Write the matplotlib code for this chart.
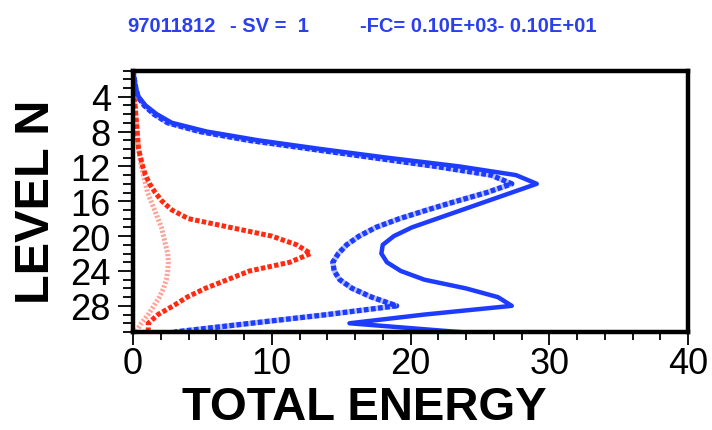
import numpy as np
import matplotlib
matplotlib.use("Agg")
import matplotlib.pyplot as plt
from matplotlib.ticker import MultipleLocator

plt.rcParams["font.family"] = ["Liberation Sans", "DejaVu Sans"]

# vertical levels, 1 (top) to 31 (bottom)
levels = np.arange(1, 32)

# total energy profiles
blue_solid = [0.0, 0.1, 0.2, 0.4, 0.9, 1.7, 2.8, 5.3, 9.0, 13.5, 18.3, 23.5,
              27.6, 29.1, 27.3, 25.5, 23.7, 21.9, 20.1, 18.8, 18.0, 17.9,
              18.3, 19.3, 21.0, 24.0, 26.3, 27.3, 21.0, 15.6, 23.5]
blue_dotted = [0.0, 0.1, 0.2, 0.35, 0.8, 1.5, 2.5, 4.8, 8.3, 12.8, 17.3, 21.8,
               25.8, 27.3, 25.5, 23.3, 21.2, 19.2, 17.5, 16.3, 15.4, 14.8,
               14.4, 14.5, 14.9, 15.8, 17.2, 19.0, 14.0, 8.5, 3.0]
red_dotted = [0.0, 0.0, 0.05, 0.1, 0.15, 0.2, 0.25, 0.3, 0.35, 0.4, 0.55, 0.7,
              0.9, 1.2, 1.6, 2.1, 2.8, 4.0, 7.0, 10.0, 11.8, 12.8, 11.3, 8.4,
              6.8, 5.2, 3.9, 2.9, 1.8, 1.1, 1.1]
red_light = [0.0, 0.0, 0.05, 0.1, 0.15, 0.2, 0.25, 0.3, 0.35, 0.4, 0.5, 0.6,
             0.75, 0.9, 1.05, 1.3, 1.55, 1.8, 2.05, 2.2, 2.35, 2.5, 2.55, 2.5,
             2.4, 2.2, 1.9, 1.5, 1.1, 0.6, 0.2]

x_ticks = [0, 10, 20, 30, 40]
y_ticks = [4, 8, 12, 16, 20, 24, 28]

BLUE = "#1e3cff"
RED = "#ff2a10"

fig = plt.figure(figsize=(7.12, 4.31), dpi=100)
ax = fig.add_axes([0.1868, 0.2274, 0.7795, 0.6067])

ax.plot(red_light, levels, color="#ff5a48", lw=3.6, alpha=0.55,
        dashes=(0.45, 0.35))
ax.plot(red_dotted, levels, color=RED, lw=3.6, dashes=(0.9, 0.45))
ax.plot(blue_dotted, levels, color="#8a9aff", lw=3.8, alpha=0.6)
ax.plot(blue_dotted, levels, color=BLUE, lw=3.8, dashes=(0.9, 0.45))
ax.plot(blue_solid, levels, color=BLUE, lw=3.2)

ax.set_xlim(0, 40)
ax.set_ylim(31, 1)
ax.set_xticks(x_ticks)
ax.set_yticks(y_ticks)
ax.xaxis.set_minor_locator(MultipleLocator(2))
ax.yaxis.set_minor_locator(MultipleLocator(1))

for spine in ax.spines.values():
    spine.set_linewidth(3.2)

ax.tick_params(which="major", length=9, width=1.3, labelsize=26, pad=1)
ax.tick_params(which="minor", length=5.5, width=1.3)
ax.tick_params(axis="y", which="major", length=11, pad=5)
ax.tick_params(axis="y", which="minor", length=7)

ax.set_xlabel("TOTAL ENERGY", fontsize=34, fontweight="bold", va="baseline")
ax.xaxis.set_label_coords(0.416, -0.333)
ax.set_ylabel("LEVEL N", fontsize=35, fontweight="bold", va="center")
ax.yaxis.set_label_coords(-0.173, 0.5)

# header line
title_kw = dict(color="#2a40f0", fontsize=14.5, fontweight="bold", va="baseline")
fig.text(127 / 712, 1 - 32 / 431, "97011812", **title_kw)
fig.text(230 / 712, 1 - 32 / 431, "- SV =  1", **title_kw)
fig.text(360 / 712, 1 - 32 / 431, "-FC= 0.10E+03- 0.10E+01", **title_kw)

fig.savefig("out.png", dpi=100)
